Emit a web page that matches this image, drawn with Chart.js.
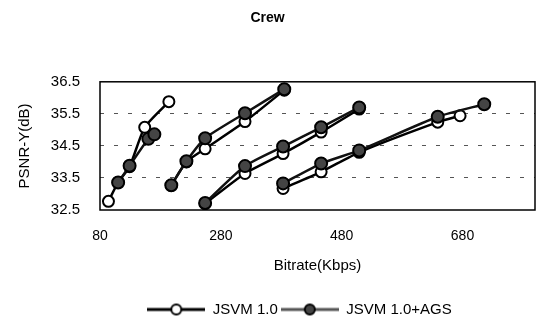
<!DOCTYPE html>
<html>
<head>
<meta charset="utf-8">
<script src="https://cdn.jsdelivr.net/npm/chart.js@4"></script>
<style>
  html, body { margin: 0; padding: 0; background: #fff; }
  canvas { display: block; }
</style>
</head>
<body>
<canvas id="crewChart" width="537" height="327"></canvas>
<script>
const X_TICKS = [80, 280, 480, 680];
const Y_TICKS = [32.5, 33.5, 34.5, 35.5, 36.5];
const SERIES_NAMES = ['JSVM 1.0', 'JSVM 1.0+AGS'];

// four rate points per sequence run
const jsvmRate1 = [94, 110, 129, 154, 194];
const jsvmPsnr1 = [32.77, 33.36, 33.85, 35.08, 35.88];
const agsRate1 = [110, 129, 160, 170];
const agsPsnr1 = [33.36, 33.88, 34.72, 34.86];

const jsvmRate2 = [198, 223, 254, 320, 385];
const jsvmPsnr2 = [33.27, 34.0, 34.41, 35.26, 36.24];
const agsRate2 = [198, 223, 254, 320, 385];
const agsPsnr2 = [33.27, 34.02, 34.74, 35.52, 36.27];

const jsvmRate3 = [254, 320, 383, 446, 509];
const jsvmPsnr3 = [32.7, 33.64, 34.26, 34.93, 35.65];
const agsRate3 = [254, 320, 383, 446, 509];
const agsPsnr3 = [32.72, 33.87, 34.48, 35.08, 35.7];

const jsvmRate4 = [383, 446, 509, 639, 676];
const jsvmPsnr4 = [33.17, 33.69, 34.3, 35.24, 35.44];
const agsRate4 = [383, 446, 509, 639, 716];
const agsPsnr4 = [33.33, 33.95, 34.36, 35.41, 35.8];

const FONT = 'Arial, "Liberation Sans", sans-serif';
const WHITE_FILL = '#ffffff';
const DARK_FILL = '#444444';

function toPoints(xs, ys) {
  return xs.map((x, i) => ({ x, y: ys[i] }));
}

function jsvmSet(xs, ys) {
  return {
    label: SERIES_NAMES[0],
    data: toPoints(xs, ys),
    borderColor: '#000',
    borderWidth: 2.5,
    pointRadius: 5.5,
    pointBorderWidth: 2,
    pointBackgroundColor: WHITE_FILL,
    pointBorderColor: '#000',
    tension: 0.2,
    order: 1
  };
}

function agsSet(xs, ys) {
  return {
    label: SERIES_NAMES[1],
    data: toPoints(xs, ys),
    borderColor: '#111',
    borderWidth: 2.5,
    pointRadius: 6,
    pointBorderWidth: 2,
    pointBackgroundColor: DARK_FILL,
    pointBorderColor: '#000',
    tension: 0.2,
    order: 0
  };
}

// legend icon: short line with a marker in the middle
function legendIcon(fill, lineColor) {
  const c = document.createElement('canvas');
  c.width = 58; c.height = 14;
  const g = c.getContext('2d');
  g.strokeStyle = lineColor;
  g.lineWidth = 3;
  g.beginPath(); g.moveTo(0, 7); g.lineTo(58, 7); g.stroke();
  g.beginPath(); g.arc(29, 7, 5, 0, Math.PI * 2);
  g.fillStyle = fill; g.fill();
  g.lineWidth = 2; g.strokeStyle = '#000'; g.stroke();
  return c;
}
const ICONS = [legendIcon(WHITE_FILL, '#000'), legendIcon(DARK_FILL, '#555')];

const frame = {
  id: 'frame',
  beforeDatasetsDraw(chart) {
    const { ctx, chartArea: a } = chart;
    ctx.save();
    ctx.strokeStyle = '#000';
    ctx.lineWidth = 1.5;
    ctx.strokeRect(a.left, a.top, a.right - a.left, a.bottom - a.top);
    ctx.restore();
  }
};

// the legend in the original sits right of the page centre
const legendShift = {
  id: 'legendShift',
  afterLayout(chart) {
    const l = chart.legend;
    if (!l) return;
    l.left += 32;
    l.right += 32;
  }
};

new Chart(document.getElementById('crewChart'), {
  type: 'line',
  data: {
    datasets: [
      jsvmSet(jsvmRate1, jsvmPsnr1), agsSet(agsRate1, agsPsnr1),
      jsvmSet(jsvmRate2, jsvmPsnr2), agsSet(agsRate2, agsPsnr2),
      jsvmSet(jsvmRate3, jsvmPsnr3), agsSet(agsRate3, agsPsnr3),
      jsvmSet(jsvmRate4, jsvmPsnr4), agsSet(agsRate4, agsPsnr4)
    ]
  },
  options: {
    responsive: false,
    animation: false,
    layout: { autoPadding: false, padding: { left: 0, right: 2, top: 0, bottom: 0 } },
    plugins: {
      title: {
        display: true,
        text: 'Crew',
        color: '#000',
        font: { family: FONT, size: 14, weight: 'bold' },
        padding: { top: 10, bottom: 55 }
      },
      legend: {
        position: 'bottom',
        labels: {
          color: '#000',
          font: { family: FONT, size: 15 },
          usePointStyle: true,
          pointStyleWidth: 58,
          padding: 3,
          filter: item => item.datasetIndex < 2,
          sort: (a, b) => a.datasetIndex - b.datasetIndex,
          generateLabels: chart => {
            const items = Chart.defaults.plugins.legend.labels.generateLabels(chart);
            return items.map(it => ({ ...it, pointStyle: ICONS[it.datasetIndex % 2] || it.pointStyle }));
          }
        }
      },
      tooltip: { enabled: false }
    },
    scales: {
      x: {
        type: 'linear',
        min: 80,
        max: 800,
        afterBuildTicks: s => { s.ticks = X_TICKS.map(v => ({ value: v })); },
        afterFit: s => { s.height = 89; s.paddingLeft = 0; s.paddingRight = 0; },
        grid: { display: false },
        border: { display: false },
        ticks: { color: '#000', font: { family: FONT, size: 14 }, padding: 10 },
        title: {
          display: true,
          text: 'Bitrate(Kbps)',
          color: '#000',
          font: { family: FONT, size: 15 },
          padding: { top: 4, bottom: 24 }
        }
      },
      y: {
        min: 32.5,
        max: 36.5,
        afterBuildTicks: s => { s.ticks = Y_TICKS.map(v => ({ value: v })); },
        afterFit: s => { s.width = 100; },
        grid: {
          drawTicks: false,
          lineWidth: 1,
          color: c => (c.index === 0 || c.index === Y_TICKS.length - 1) ? 'rgba(0,0,0,0)' : '#555'
        },
        border: { display: false, dash: [4, 10] },
        ticks: {
          color: '#000',
          font: { family: FONT, size: 15 },
          padding: 20,
          callback: v => Number(v).toFixed(1)
        },
        title: {
          display: true,
          text: 'PSNR-Y(dB)',
          color: '#000',
          font: { family: FONT, size: 15 },
          padding: { top: 16, bottom: 0 }
        }
      }
    }
  },
  plugins: [frame, legendShift]
});
</script>
</body>
</html>
